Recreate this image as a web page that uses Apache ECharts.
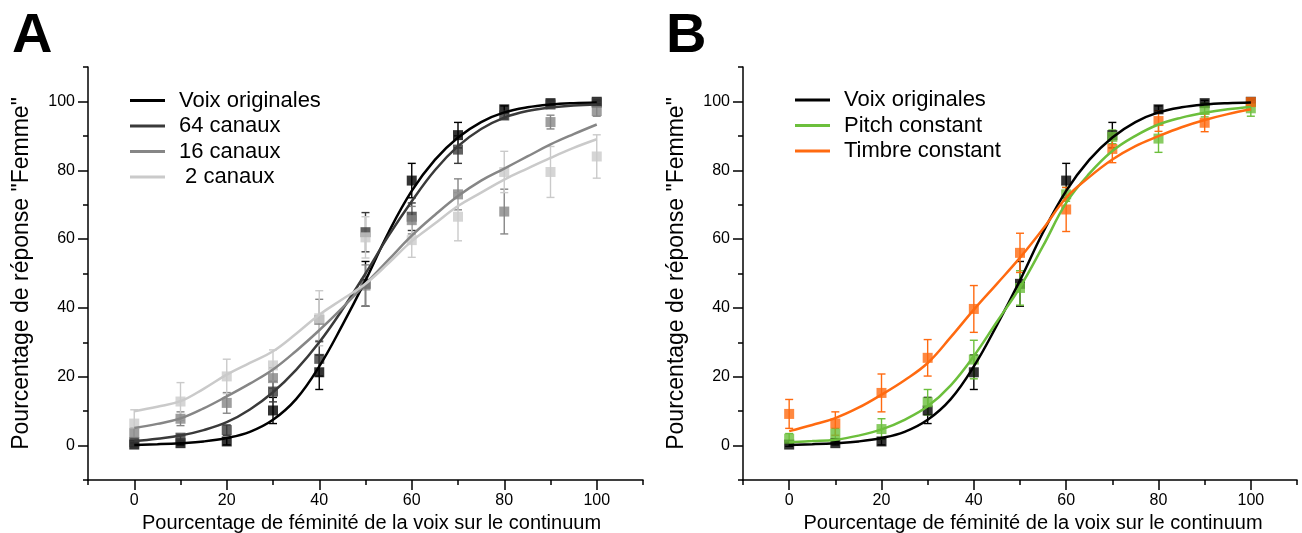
<!DOCTYPE html>
<html>
<head>
<meta charset="utf-8">
<script src="https://cdn.jsdelivr.net/npm/echarts@6/dist/echarts.min.js"></script>
<style>
html,body{margin:0;padding:0;background:#fff;}
#chart{width:1302px;height:533px;}
</style>
</head>
<body>
<div id="chart"></div>
<script>
// ---- data ----
const xPoints = [0, 10, 20, 30, 40, 50, 60, 70, 80, 90, 100];
const xCurve = [0, 5, 10, 15, 20, 25, 30, 35, 40, 45, 50, 55, 60, 65, 70, 75, 80, 85, 90, 95, 100];
const xTickLabels = [0, 20, 40, 60, 80, 100];
const yTickLabels = [0, 20, 40, 60, 80, 100];

// Voix originales (same in both panels)
const origPts = [0.3, 0.7, 1.2, 10.2, 21.3, 47, 77, 90.2, 97.7, 99.5, 99.9];
const origErr = [0.5, 0.5, 1, 3.8, 5, 6.5, 5, 3.7, 1, 0.8, 0.5];
const origCurve = [0.2, 0.4, 0.7, 1.2, 2.2, 4, 7.5, 13.5, 23, 35, 48, 62, 74, 83, 89.5, 94, 96.8, 98.3, 99.1, 99.5, 99.7];

// Panel A
const c64Pts = [1, 2.3, 4.5, 15.7, 25.2, 62, 66.5, 86, 95.9, 99.1, 99.6];
const c64Err = [0.5, 0.8, 1.5, 3, 5, 5.7, 4, 4, 1, 0.8, 0.5];
const c64Curve = [1.3, 2, 2.9, 4.5, 6.8, 10.5, 15.5, 22, 30, 39.5, 50, 61, 71, 80, 87, 92, 95.3, 97.2, 98.2, 98.8, 99.1];

const c16Pts = [3.7, 7.8, 12.4, 19.6, 36.5, 46.5, 65.5, 73, 68, 94, 97.2];
const c16Err = [1.5, 2, 3, 3, 6, 6, 4, 4.5, 6.5, 2, 1.5];
const c16Curve = [5.1, 6.3, 7.9, 10.8, 14.3, 18, 22.1, 27.5, 33.5, 40, 47, 54, 61, 67, 72.5, 77, 80.5, 84, 87.5, 90.5, 93.3];

const c2Pts = [6.4, 12.8, 20.1, 23.3, 37, 60.5, 59.7, 66.5, 79.5, 79.5, 84];
const c2Err = [4, 5.5, 5, 4.5, 8, 6, 5, 7, 6, 7.4, 6.3];
const c2Curve = [10, 11.3, 12.9, 16.5, 20.6, 24, 27.4, 32.5, 38, 42.5, 47, 53, 59.4, 64.5, 69.6, 73.5, 77.3, 80.5, 83.6, 86.5, 89];

// Panel B
const pitchPts = [2, 3.5, 4.8, 12.6, 25, 45.8, 73, 89.7, 89.2, 97.5, 98];
const pitchErr = [1.5, 1.5, 3, 3.7, 5.6, 5, 2, 2, 4, 2, 2.3];
const pitchCurve = [1, 1.3, 1.7, 2.9, 4.7, 7.5, 11.4, 17.5, 26, 36, 46, 58, 70.5, 79, 85.6, 90, 93.3, 95.3, 96.7, 97.7, 98.4];

const timbrePts = [9.2, 6.4, 15.3, 25.5, 39.7, 56, 68.6, 86.2, 94.3, 93.8, 99.8];
const timbreErr = [4.2, 3.4, 5.5, 5.3, 6.8, 5.7, 6.4, 4, 3, 2.6, 1];
const timbreCurve = [4.2, 6, 8, 11, 14.8, 19, 24, 31.5, 39.5, 47, 54.6, 63, 72, 78, 83.1, 87, 89.9, 92.5, 94.6, 96.3, 97.7];

const FONT = 'Liberation Sans, Arial, sans-serif';

function pairs(xs, ys) { return xs.map((x, i) => [x, ys[i]]); }
function errData(xs, ys, es) { return xs.map((x, i) => [x, ys[i], es[i]]); }

function makeGroup(name, color, pts, err, curve, idx) {
  return [
    {
      type: 'custom', name: name + ' err', xAxisIndex: idx, yAxisIndex: idx,
      data: errData(xPoints, pts, err), silent: true,
      renderItem: function (params, api) {
        const x = api.value(0), y = api.value(1), e = api.value(2);
        const top = api.coord([x, y + e]);
        const bot = api.coord([x, y - e]);
        const w = 4;
        const st = { stroke: color, lineWidth: 1.4 };
        return {
          type: 'group',
          children: [
            { type: 'line', shape: { x1: top[0], y1: top[1], x2: bot[0], y2: bot[1] }, style: st },
            { type: 'line', shape: { x1: top[0] - w, y1: top[1], x2: top[0] + w, y2: top[1] }, style: st },
            { type: 'line', shape: { x1: bot[0] - w, y1: bot[1], x2: bot[0] + w, y2: bot[1] }, style: st }
          ]
        };
      }
    },
    {
      type: 'scatter', name: name + ' pts', xAxisIndex: idx, yAxisIndex: idx,
      data: pairs(xPoints, pts), symbol: 'rect', symbolSize: 10,
      itemStyle: { color: color }, silent: true
    },
    {
      type: 'line', name: name, xAxisIndex: idx, yAxisIndex: idx,
      data: pairs(xCurve, curve), smooth: 0.4, showSymbol: false, symbol: 'none',
      lineStyle: { color: color, width: 2.5 }, itemStyle: { color: color }, silent: true
    }
  ];
}

function xAxisDef(idx, namePad) {
  return {
    type: 'value', gridIndex: idx, position: 'bottom', min: -10, max: 110, interval: 10,
    name: 'Pourcentage de féminité de la voix sur le continuum',
    nameLocation: 'middle', nameGap: 32,
    nameTextStyle: { fontFamily: FONT, fontSize: 20, color: '#000', padding: [0, 0, 0, namePad] },
    axisLine: { onZero: false, lineStyle: { color: '#000', width: 1.5 } },
    axisTick: { show: true, inside: false, length: 5, lineStyle: { color: '#000', width: 1.5 } },
    axisLabel: {
      fontFamily: FONT, fontSize: 16, color: '#000', margin: 13,
      showMinLabel: true, showMaxLabel: true,
      formatter: v => (xTickLabels.indexOf(v) >= 0 ? String(v) : '')
    },
    splitLine: { show: false }
  };
}
function xMajorDef(idx) {
  return {
    type: 'value', gridIndex: idx, position: 'bottom', min: -10, max: 110,
    axisLine: { show: false, onZero: false },
    axisTick: { show: true, inside: false, length: 10, customValues: xTickLabels, lineStyle: { color: '#000', width: 1.5 } },
    axisLabel: { show: false },
    splitLine: { show: false }
  };
}
function yAxisDef(idx) {
  return {
    type: 'value', gridIndex: idx, position: 'left', min: -10, max: 110, interval: 10,
    name: 'Pourcentage de réponse "Femme"',
    nameLocation: 'middle', nameGap: 55,
    nameTextStyle: { fontFamily: FONT, fontSize: 23, color: '#000' },
    axisLine: { show: true, onZero: false, lineStyle: { color: '#000', width: 1.5 } },
    axisTick: { show: true, inside: false, length: 5, lineStyle: { color: '#000', width: 1.5 } },
    axisLabel: {
      fontFamily: FONT, fontSize: 16, color: '#000', margin: 13,
      formatter: v => (yTickLabels.indexOf(v) >= 0 ? String(v) : '')
    },
    splitLine: { show: false }
  };
}
function yMajorDef(idx) {
  return {
    type: 'value', gridIndex: idx, position: 'left', min: -10, max: 110,
    axisLine: { show: false, onZero: false },
    axisTick: { show: true, inside: false, length: 10, customValues: yTickLabels, lineStyle: { color: '#000', width: 1.5 } },
    axisLabel: { show: false },
    splitLine: { show: false }
  };
}

const legendCommon = {
  orient: 'vertical', icon: 'rect', itemWidth: 35, itemHeight: 3, itemGap: 3.5,
  selectedMode: false,
  textStyle: { fontFamily: FONT, fontSize: 22, color: '#000', padding: [0, 0, 0, 9], lineHeight: 22 }
};

const chart = echarts.init(document.getElementById('chart'), null, { renderer: 'canvas' });
chart.setOption({
  animation: false,
  backgroundColor: '#fff',
  title: [
    { text: 'A', left: 7, top: 4, textStyle: { fontFamily: FONT, fontSize: 56, fontWeight: 'bold', color: '#000' } },
    { text: 'B', left: 661, top: 4, textStyle: { fontFamily: FONT, fontSize: 56, fontWeight: 'bold', color: '#000' } }
  ],
  legend: [
    Object.assign({}, legendCommon, { left: 125, top: 84.5, data: ['Voix originales', '64 canaux', '16 canaux', ' 2 canaux'] }),
    Object.assign({}, legendCommon, { left: 790, top: 84, data: ['Voix originales', 'Pitch constant', 'Timbre constant'] })
  ],
  grid: [
    { left: 88, top: 67, width: 555, height: 413, containLabel: false, outerBoundsMode: 'none' },
    { left: 743, top: 67, width: 554, height: 413, containLabel: false, outerBoundsMode: 'none' }
  ],
  xAxis: [xAxisDef(0, 12), xAxisDef(1, 26), xMajorDef(0), xMajorDef(1)],
  yAxis: [yAxisDef(0), yAxisDef(1), yMajorDef(0), yMajorDef(1)],
  series: [].concat(
    makeGroup('Voix originales', '#000000', origPts, origErr, origCurve, 0),
    makeGroup('64 canaux', '#3a3a3a', c64Pts, c64Err, c64Curve, 0),
    makeGroup('16 canaux', '#868686', c16Pts, c16Err, c16Curve, 0),
    makeGroup(' 2 canaux', '#cacaca', c2Pts, c2Err, c2Curve, 0),
    makeGroup('Voix originales', '#000000', origPts, origErr, origCurve, 1),
    makeGroup('Pitch constant', '#6cbf3c', pitchPts, pitchErr, pitchCurve, 1),
    makeGroup('Timbre constant', '#ff6a10', timbrePts, timbreErr, timbreCurve, 1)
  )
});
</script>
</body>
</html>
